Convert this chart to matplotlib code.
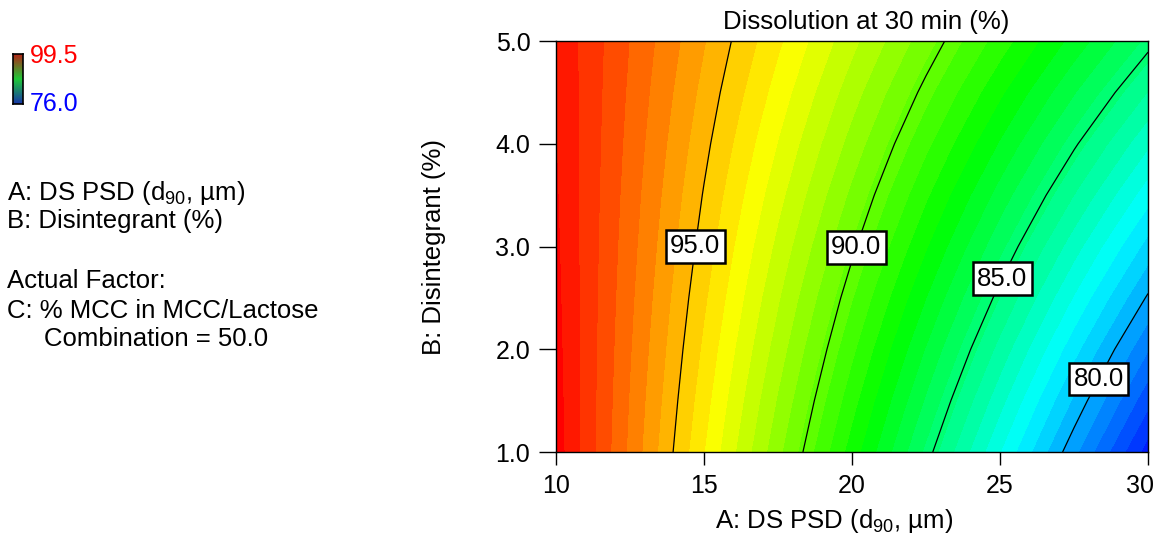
import matplotlib
matplotlib.use('Agg')
import matplotlib.pyplot as plt
import matplotlib.transforms as mtransforms
import numpy as np
from matplotlib.colors import LinearSegmentedColormap

plt.rcParams['font.family'] = ['Liberation Sans', 'DejaVu Sans']
plt.rcParams['mathtext.fontset'] = 'custom'
plt.rcParams['mathtext.rm'] = 'Liberation Sans'

# factor levels (A: DS PSD d90 um, B: disintegrant %)
psd = [10.0, 12.5, 15.0, 17.5, 20.0, 22.5, 25.0, 27.5, 30.0]
disint = [1.0, 1.5, 2.0, 2.5, 3.0, 3.5, 4.0, 4.5, 5.0]

# dissolution at 30 min (%), one row per disintegrant level
dissolution = [
	[99.51, 96.66, 93.81, 90.96, 88.11, 85.26, 82.41, 79.56, 76.71],
	[99.46, 96.75, 94.04, 91.33, 88.62, 85.91, 83.20, 80.49, 77.78],
	[99.41, 96.84, 94.27, 91.70, 89.13, 86.55, 83.98, 81.41, 78.84],
	[99.36, 96.93, 94.50, 92.06, 89.63, 87.20, 84.77, 82.34, 79.91],
	[99.31, 97.02, 94.73, 92.43, 90.14, 87.85, 85.56, 83.26, 80.97],
	[99.26, 97.11, 94.95, 92.80, 90.65, 88.49, 86.34, 84.19, 82.04],
	[99.21, 97.20, 95.18, 93.17, 91.16, 89.14, 87.13, 85.11, 83.10],
	[99.16, 97.29, 95.41, 93.54, 91.66, 89.79, 87.91, 86.04, 84.17],
	[99.11, 97.38, 95.64, 93.91, 92.17, 90.44, 88.70, 86.97, 85.23],
]

contour_levels = [80.0, 85.0, 90.0, 95.0]
label_spots = [(28.4, 1.70), (25.2, 2.67), (20.05, 3.0), (14.74, 3.0)]
range_lo, range_hi = 76.0, 99.5

x_ticks = [10, 15, 20, 25, 30]
y_ticks = [1.0, 2.0, 3.0, 4.0, 5.0]

rainbow = LinearSegmentedColormap.from_list('de', [
	(0.0, '#0000ff'), (0.25, '#00ffff'), (0.5, '#00ff00'),
	(0.75, '#ffff00'), (1.0, '#ff0000')])

X, Y = np.meshgrid(psd, disint)
Z = np.array(dissolution)

fig = plt.figure(figsize=(11.6, 5.36), dpi=100)
ax = fig.add_axes([0.4793, 0.1567, 0.5104, 0.7668])

bands = np.arange(75.8, 100.3, 0.6)
ax.contourf(X, Y, Z, levels=bands, cmap=rainbow, vmin=range_lo, vmax=range_hi)
cs = ax.contour(X, Y, Z, levels=contour_levels, colors='black', linewidths=0.9)
labels = ax.clabel(cs, fmt='%.1f', inline=False, manual=label_spots, fontsize=18.5)
for t in labels:
	t.set_rotation(0)
	t.set_zorder(5)
	t.set_bbox(dict(boxstyle='square,pad=0.17', facecolor='white', edgecolor='black', linewidth=1.8))

ax.set_xlim(10, 30)
ax.set_ylim(1, 5)
ax.set_xticks(x_ticks)
ax.set_yticks(y_ticks)
ax.set_yticklabels(['%.1f' % v for v in y_ticks])
ax.tick_params(axis='x', direction='out', length=9, width=1, labelsize=18, pad=7)
ax.tick_params(axis='y', direction='out', length=12.5, width=1, labelsize=18, pad=6)
for s in ax.spines.values():
	s.set_linewidth(1.0)

# last x tick label sits a bit to the left, inside the figure
last = ax.get_xticklabels()[-1]
last.set_transform(last.get_transform() + mtransforms.ScaledTranslation(-8 / 100, 0, fig.dpi_scale_trans))

ax.set_xlabel('A: DS PSD (d$_{\\mathregular{90}}$, µm)', fontsize=18.5)
ax.xaxis.set_label_coords(0.47, -0.135)
ax.set_ylabel('B: Disintegrant (%)', fontsize=18.5)
ax.yaxis.set_label_coords(-0.185, 0.5)
fig.text(0.747, 1 - 29 / 536, 'Dissolution at 30 min (%)', fontsize=18.5,
	ha='center', va='baseline')

# small colour key in the top left corner
kax = fig.add_axes([13 / 1160, 1 - 104 / 536, 10 / 1160, 50 / 536])
key_cmap = LinearSegmentedColormap.from_list('key', ['#1838a8', '#20c838', '#b02818'])
kax.imshow(np.linspace(0, 1, 50).reshape(-1, 1), cmap=key_cmap, aspect='auto', origin='lower')
kax.set_xticks([])
kax.set_yticks([])
for s in kax.spines.values():
	s.set_linewidth(1.2)
fig.text(30 / 1160, 1 - 63 / 536, '%.1f' % range_hi, color='#ff0000', fontsize=18, va='baseline')
fig.text(30 / 1160, 1 - 111 / 536, '%.1f' % range_lo, color='#0000ff', fontsize=18, va='baseline')

side_text = [
	(7, 200, 'A: DS PSD (d$_{\\mathregular{90}}$, µm)'),
	(7, 228, 'B: Disintegrant (%)'),
	(7, 288, 'Actual Factor:'),
	(7, 318, 'C: % MCC in MCC/Lactose'),
	(44, 346, 'Combination = 50.0'),
]
for px, py, s in side_text:
	fig.text(px / 1160, 1 - py / 536, s, fontsize=18.5, va='baseline')

fig.savefig('out.png', dpi=100)
